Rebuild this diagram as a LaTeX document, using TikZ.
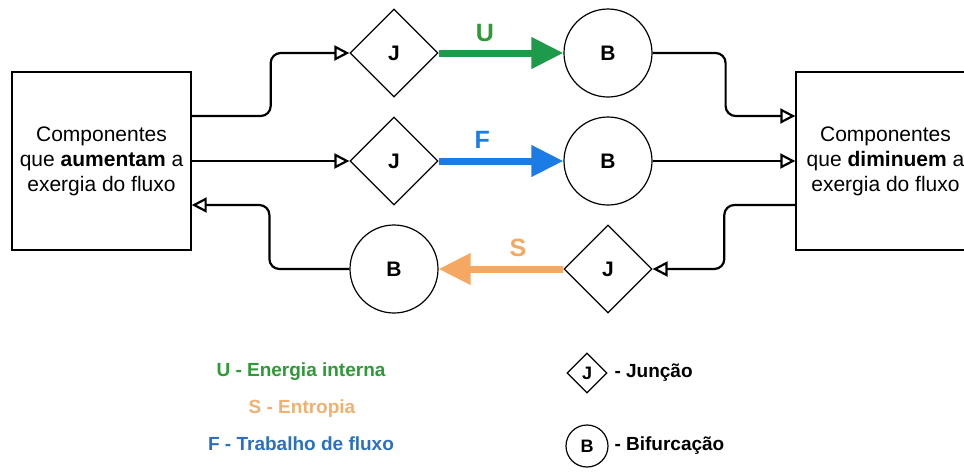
\documentclass[tikz,border=0pt]{standalone}
\usepackage{fontspec}
\setmainfont{Liberation Sans}
\usetikzlibrary{shapes.geometric,arrows.meta}

\definecolor{ugreen}{HTML}{1E9A4B}
\definecolor{ulabel}{HTML}{2E9A36}
\definecolor{fblue}{HTML}{1C7CE6}
\definecolor{flabel}{HTML}{2C6FBE}
\definecolor{sorange}{HTML}{F5A862}
\definecolor{slabel}{HTML}{F0B070}

\begin{document}
\begin{tikzpicture}[x=1pt, y=-1pt,
	comp/.style={rectangle, draw, line width=1.4pt, minimum width=179pt, minimum height=178pt, inner sep=0pt, align=center, font=\fontsize{21}{25}\selectfont},
	junc/.style={diamond, draw, line width=1.2pt, aspect=1, inner sep=0pt, minimum size=88pt, font=\fontsize{21}{22}\selectfont\bfseries},
	bif/.style={circle, draw, line width=1.2pt, inner sep=0pt, minimum size=88pt, font=\fontsize{21}{22}\selectfont\bfseries},
	link/.style={-{Triangle[open, length=15pt, width=15pt]}, line width=2.2pt, rounded corners=10pt},
	flow/.style={-{Triangle[length=32pt, width=30pt]}, line width=7pt},
	flowlabel/.style={font=\fontsize{25}{26}\selectfont\bfseries},
	legend/.style={font=\fontsize{19}{22}\selectfont\bfseries}]

	\useasboundingbox (0,0) rectangle (964,472);

	\node 	(left)		at	(101.5,161) 	[comp]{Componentes\\que \textbf{aumentam} a\\exergia do fluxo};

	\node 	(right)		at	(885.5,161) 	[comp]{Componentes\\que \textbf{diminuem} a\\exergia do fluxo};

	\node 	(j1)		at	(394,53) 	[junc]{J};
	\node 	(j2)		at	(394,161) 	[junc]{J};
	\node 	(b3)		at	(394,269) 	[bif]{B};

	\node 	(b1)		at	(608,53) 	[bif]{B};
	\node 	(b2)		at	(608,161) 	[bif]{B};
	\node 	(j3)		at	(608,269) 	[junc]{J};

	% fluxos coloridos
	\draw[flow, draw=ugreen, fill=ugreen]	(j1.east)	to	node[pos=.37, yshift=20pt, flowlabel, text=ulabel]{U}	(b1.west);
	\draw[flow, draw=fblue, fill=fblue]	(j2.east)	to	node[pos=.35, yshift=21pt, flowlabel, text=fblue]{F}	(b2.west);
	\draw[flow, draw=sorange, fill=sorange]	(j3.west)	to	node[pos=.365, yshift=21pt, flowlabel, text=sorange]{S}	(b3.east);

	% ligacoes
	\draw[link]	([yshift=45pt]left.east)	-- ++(79,0) |-	(j1.west);
	\draw[link]	(left.east)	--	(j2.west);
	\draw[link]	(b3.west)	-- ++(-80,0) |-	([yshift=-44pt]left.east);

	\draw[link]	(b1.east)	-- ++(73,0) |-	([yshift=45pt]right.west);
	\draw[link]	(b2.east)	--	(right.west);
	\draw[link]	([yshift=-44pt]right.west)	-- ++(-71,0) |-	(j3.east);

	% legenda
	\node 	(lu)		at	(301,372) 	[legend, text=ulabel]{U - Energia interna};
	\node 	(ls)		at	(302,409) 	[legend, text=slabel]{S - Entropia};
	\node 	(lf)		at	(301,444) 	[legend, text=flabel]{F - Trabalho de fluxo};

	\node 	(lj)		at	(587,373) 	[junc, minimum size=40pt, font=\fontsize{18}{20}\selectfont\bfseries]{J};
	\node 	(ljt)		at	(611,373) 	[legend, anchor=west]{- Junção};
	\node 	(lb)		at	(587,446) 	[bif, minimum size=42pt, font=\fontsize{18}{20}\selectfont\bfseries]{B};
	\node 	(lbt)		at	(611,446) 	[legend, anchor=west]{- Bifurcação};

\end{tikzpicture}
\end{document}
